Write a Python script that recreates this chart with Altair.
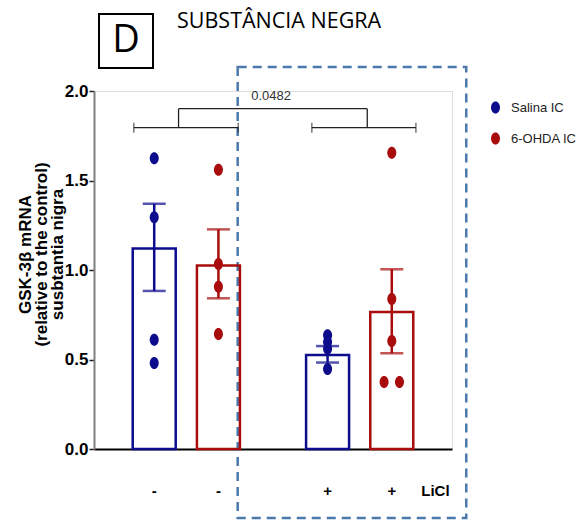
import altair as alt
import pandas as pd

# ---- data ----
groups = ["Salina IC", "6-OHDA IC", "Salina IC", "6-OHDA IC"]
licl_labels = ["-", "-", "+", "+"]
slots = [1.0, 2.0, 3.7, 4.7]
means = [1.12, 1.025, 0.525, 0.765]
err_hi = [1.37, 1.227, 0.575, 1.004]
err_lo = [0.883, 0.842, 0.483, 0.535]

pts_bar = [0, 0, 0, 0, 1, 1, 1, 1, 2, 2, 2, 2, 3, 3, 3, 3, 3]
pts_value = [1.625, 1.295, 0.61, 0.48,
             1.56, 1.034, 0.906, 0.643,
             0.635, 0.598, 0.56, 0.447,
             1.655, 0.838, 0.603, 0.374, 0.374]
pts_jitter = [0] * 15 + [-0.12, 0.12]

series = ["Salina IC", "6-OHDA IC"]
colors = ["#0c0c8c", "#a80c0c"]

p_value_text = "0.0482"
title_text = "SUBSTÂNCIA NEGRA"
panel_letter = "D"
row_header = "LiCl"
row_header_slot = 5.38
y_title = ["GSK-3β mRNA", "(relative to the control)", "susbtantia nigra"]

# significance bracket (data units)
br_low = 1.795
br_high = 1.901
left_span = [0.682, 2.308]
right_span = [3.455, 5.076]
left_mid = 1.379
right_mid = 4.318

# dashed highlight box (data units)
box_x = [2.30, 5.86]
box_y = [-0.385, 2.134]

SANS = "Liberation Sans, Arial, sans-serif"
ELLIPSE = "M-0.75,0A0.75,1,0,1,1,0.75,0A0.75,1,0,1,1,-0.75,0Z"

bars_df = pd.DataFrame({"g": groups, "x": slots, "m": means, "hi": err_hi, "lo": err_lo, "lab": licl_labels})
pts_df = pd.DataFrame({
    "g": [groups[i] for i in pts_bar],
    "x": [slots[i] + j for i, j in zip(pts_bar, pts_jitter)],
    "v": pts_value,
})

xscale = alt.Scale(domain=[0.14, 5.56], nice=False, zero=False)
yscale = alt.Scale(domain=[0, 2], nice=False)
cscale = alt.Scale(domain=series, range=colors)

xaxis = alt.Axis(ticks=False, labels=False, grid=False, title=None,
                 domainColor="black", domainWidth=2)
yaxis = alt.Axis(values=[0, 0.5, 1, 1.5, 2], format=".1f", grid=False,
                 title=y_title, titleFont=SANS,
                 titleFontSize=17, titleFontWeight="bold", titleColor="black",
                 titleLineHeight=16, titleBaseline="middle", titleAngle=-90,
                 titleX=-69, titleY=163, titleAlign="center",
                 labelFont=SANS, labelFontSize=17, labelFontWeight="bold",
                 labelColor="black", labelPadding=1,
                 tickSize=5, tickColor="#222", tickWidth=1.5,
                 domainColor="#7f7f7f", domainWidth=2)

legend = alt.Legend(orient="none", legendX=395, legendY=10, title=None,
                    symbolType=ELLIPSE, symbolSize=144, symbolStrokeWidth=0,
                    labelFont=SANS, labelFontSize=13, labelColor="#222",
                    rowPadding=17, labelOffset=9, padding=0)


def X(field):
    return alt.X(field, type="quantitative", scale=xscale, axis=xaxis)


def Y(field):
    return alt.Y(field, type="quantitative", scale=yscale, axis=yaxis)


def C():
    return alt.Color("g:N", scale=cscale, legend=legend)


base = alt.Chart(bars_df)

bars = base.mark_bar(filled=False, size=43, strokeWidth=2.5).encode(
    x=X("x"), y=Y("m"), y2=alt.datum(0), color=C())

stems = base.mark_rule(strokeWidth=2.5).encode(
    x=X("x"), y=Y("lo"), y2="hi", color=C())
cap_hi = base.mark_tick(orient="horizontal", size=23, thickness=2.5).encode(
    x=X("x"), y=Y("hi"), color=C())
cap_lo = base.mark_tick(orient="horizontal", size=23, thickness=2.5).encode(
    x=X("x"), y=Y("lo"), color=C())

points = alt.Chart(pts_df).mark_point(filled=True, shape=ELLIPSE, size=144, opacity=1).encode(
    x=X("x"), y=Y("v"), color=C())

# x-axis row labels
lab_df = pd.DataFrame({"x": slots + [row_header_slot], "t": licl_labels + [row_header]})
xlabels = alt.Chart(lab_df).mark_text(font=SANS, fontSize=15,
                                      fontWeight="bold", color="black", baseline="middle").encode(
    x=X("x"), y=alt.value(400), text="t:N")

# significance bracket
hseg = pd.DataFrame({
    "x": [left_span[0], right_span[0], left_mid],
    "x2": [left_span[1], right_span[1], right_mid],
    "y": [br_low, br_low, br_high],
})
vseg = pd.DataFrame({"x": [left_mid, right_mid], "y": [br_low, br_low], "y2": [br_high, br_high]})
ends = pd.DataFrame({"x": left_span + right_span, "y": [br_low] * 4})
br_h = alt.Chart(hseg).mark_rule(color="#222", strokeWidth=1.3).encode(x=X("x"), x2="x2", y=Y("y"))
br_v = alt.Chart(vseg).mark_rule(color="#222", strokeWidth=1.3).encode(x=X("x"), y=Y("y"), y2="y2")
br_e = alt.Chart(ends).mark_tick(orient="vertical", size=10, thickness=1.3, color="#222").encode(
    x=X("x"), y=Y("y"))
ptext = alt.Chart(pd.DataFrame({"x": [2.82], "y": [1.95], "t": [p_value_text]})).mark_text(
    font=SANS, fontSize=13, color="#333", baseline="alphabetic").encode(
    x=X("x"), y=Y("y"), text="t:N")

# dashed box
box = alt.Chart(pd.DataFrame({"x": [box_x[0]], "x2": [box_x[1]], "y": [box_y[0]], "y2": [box_y[1]]})).mark_rect(
    filled=False, stroke="#4a7aab", strokeWidth=2.5, strokeDash=[9, 6]).encode(
    x=X("x"), x2="x2", y=Y("y"), y2="y2")

# title + panel letter
one = pd.DataFrame({"t": [title_text], "d": [panel_letter]})
title = alt.Chart(one).mark_text(font="Open Sans, Liberation Sans, sans-serif", fontSize=21.5,
                                 align="left", baseline="alphabetic", color="black").encode(
    x=alt.value(83), y=alt.value(-63), text="t:N")
dbox = alt.Chart(one).mark_rect(filled=False, stroke="black", strokeWidth=2).encode(
    x=alt.value(5), x2=alt.value(59), y=alt.value(-77), y2=alt.value(-23))
dtext = alt.Chart(one).mark_text(font="Open Sans, Liberation Sans, sans-serif", fontSize=38,
                                 align="center", baseline="middle", color="black").encode(
    x=alt.value(32), y=alt.value(-50), text="d:N")

chart = alt.layer(box, bars, stems, cap_hi, cap_lo, points, br_h, br_v, br_e, ptext,
                  xlabels, title, dbox, dtext).properties(
    width=358, height=358,
    padding={"left": 94, "top": 91, "right": 134, "bottom": 71},
    autosize="none",
).configure_view(stroke=None).configure(background="white")

chart.save("out.html", embed_options={"renderer": "svg", "actions": False})
